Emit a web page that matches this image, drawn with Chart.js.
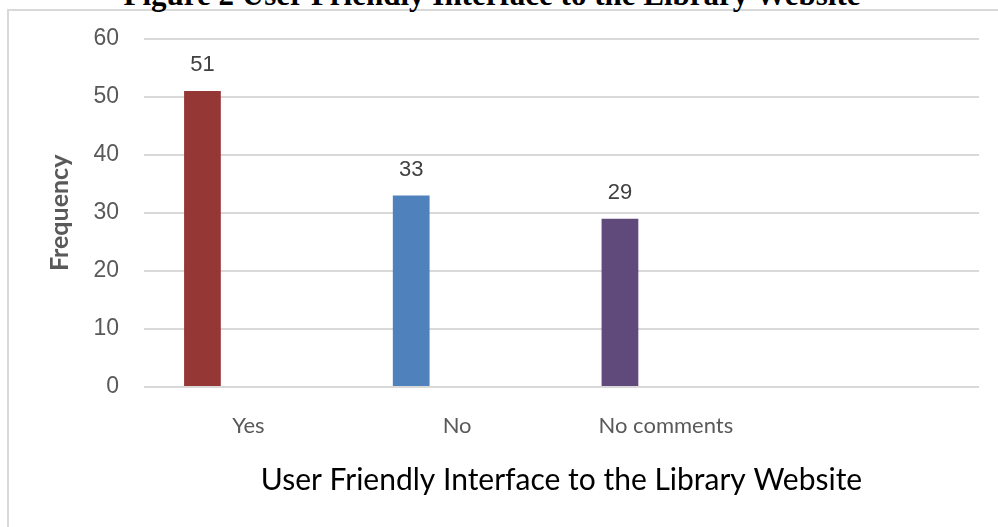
<!DOCTYPE html>
<html>
<head>
<meta charset="utf-8">
<script src="https://cdn.jsdelivr.net/npm/chart.js@4.4.1/dist/chart.umd.min.js"></script>
<style>
  body { margin: 0; background: #fff; }
  #wrap { position: relative; width: 998px; height: 527px; overflow: hidden; }
  #frame {
    position: absolute; left: 7px; top: 9px; width: 1300px; height: 900px;
    border: 2px solid #d9d9d9; box-sizing: border-box;
  }
  #fig {
    position: absolute; left: 0; width: 984px; top: -21px; text-align: center;
    font: bold 31px "Liberation Serif", "Times New Roman", serif; line-height: 31px; color: #000;
  }
  canvas { position: absolute; left: 0; top: 0; }
</style>
</head>
<body>
<div id="wrap">
  <div id="frame"></div>
  <div id="fig">Figure 2 User Friendly Interface to the Library Website</div>
  <canvas id="myChart" width="998" height="527"></canvas>
</div>
<script>
// donnees
var categories = ["Yes", "No", "No comments", ""];
var frequency = [51, 33, 29, null];
var barColors = ["#953735", "#4F81BD", "#604A7B", "#9BBB59"];
var yTicks = [0, 10, 20, 30, 40, 50, 60];

var calibriLike = 'Lato, "Liberation Sans", sans-serif';
var sans = '"Liberation Sans", Arial, sans-serif';

// etiquettes au-dessus des barres
var valueLabels = {
  id: "valueLabels",
  afterDatasetsDraw: function (chart) {
    var ctx = chart.ctx;
    var meta = chart.getDatasetMeta(0);
    ctx.save();
    ctx.font = "22px " + sans;
    ctx.fillStyle = "#404040";
    ctx.textAlign = "center";
    ctx.textBaseline = "middle";
    meta.data.forEach(function (bar, i) {
      if (frequency[i] == null) return;
      ctx.fillText(frequency[i], bar.x, bar.y - 26);
    });
    ctx.restore();
  },
};

var ctx = document.getElementById("myChart").getContext("2d");
var myChart = new Chart(ctx, {
  type: "bar",
  data: {
    labels: categories,
    datasets: [
      {
        data: frequency,
        backgroundColor: barColors,
        categoryPercentage: 0.88,
        barPercentage: 0.4,
      },
      {
        // serie vide, garde le decalage des barres comme dans Excel
        data: [null, null, null, null],
        categoryPercentage: 0.88,
        barPercentage: 0.4,
      },
    ],
  },
  options: {
    responsive: false,
    animation: false,
    layout: { padding: { left: 0, right: 19, top: 38, bottom: 0 } },
    plugins: {
      legend: { display: false },
      tooltip: { enabled: false },
    },
    scales: {
      x: {
        grid: { display: false },
        border: { display: false },
        ticks: {
          color: "#595959",
          font: { family: calibriLike, size: 22 },
          padding: 18,
        },
        title: {
          display: true,
          text: "User Friendly Interface to the Library Website",
          color: "#000",
          font: { family: calibriLike, size: 30 },
          padding: { top: 0, bottom: 29 },
        },
        afterFit: function (scale) {
          scale.height = 140;
        },
      },
      y: {
        min: 0,
        max: 60,
        afterBuildTicks: function (scale) {
          scale.ticks = yTicks.map(function (v) { return { value: v }; });
        },
        grid: { color: "#d9d9d9", lineWidth: 2, drawTicks: false },
        border: { display: false },
        ticks: {
          color: "#595959",
          font: { family: sans, size: 23 },
          padding: 25,
        },
        title: {
          display: true,
          text: "Frequency",
          color: "#595959",
          font: { family: calibriLike, size: 25, weight: "bold" },
          padding: { top: 45, bottom: 0 },
        },
        afterFit: function (scale) {
          scale.width = 144;
        },
      },
    },
  },
  plugins: [valueLabels],
});
</script>
</body>
</html>
